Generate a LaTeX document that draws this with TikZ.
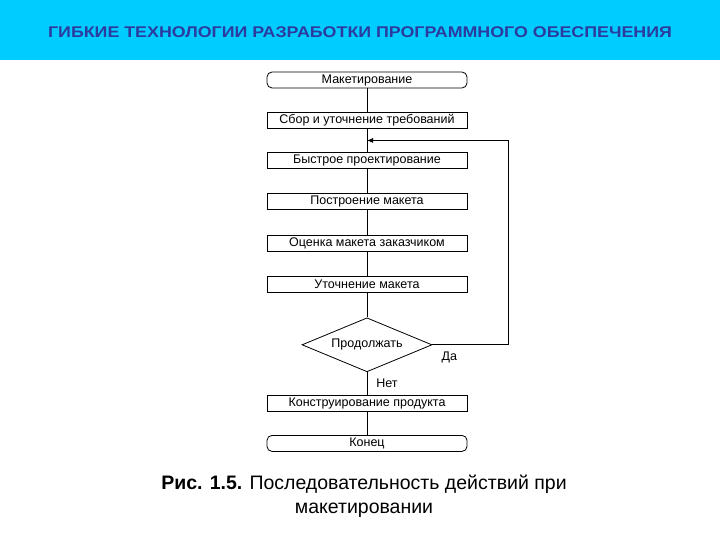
\documentclass[tikz,border=0pt]{standalone}
\usepackage{fontspec}
\setmainfont{Liberation Sans}
\usepackage{graphicx}
\usetikzlibrary{positioning,shapes.geometric,arrows.meta,calc}
\definecolor{hcyan}{HTML}{00CCFF}
\definecolor{hnavy}{HTML}{2B3C9E}

\begin{document}
\begin{tikzpicture}[x=1pt, y=1pt,
  stepbox/.style={rectangle, draw=black, line width=0.8pt, fill=white, text centered,
    font=\fontsize{12.5}{14}\selectfont, inner sep=0pt, minimum width=200pt, minimum height=16pt},
  termbox/.style={stepbox, rounded corners=5pt},
  decide/.style={diamond, aspect=2.45, draw=black, line width=0.8pt, fill=white, inner sep=0pt,
    font=\fontsize{12.5}{14}\selectfont, minimum width=130pt, minimum height=54pt},
  link/.style={line width=0.8pt, color=black},
  arr/.style={link, -{Latex[length=6pt, width=5pt]}}
]
\useasboundingbox (0,0) rectangle (720,-540);
\fill[hcyan] (0,0) rectangle (720,-60);
\node[font=\bfseries\fontsize{15.5}{18}\selectfont, text=hnavy] (title) at (360,-32.5)
  {\scalebox{1.15}[1]{ГИБКИЕ ТЕХНОЛОГИИ РАЗРАБОТКИ ПРОГРАММНОГО ОБЕСПЕЧЕНИЯ}};

\node[termbox] (proto) at (367,-80) {Макетирование};
\node[stepbox, below=23.5pt of proto] (req) {Сбор и уточнение требований};
\node[stepbox, below=23.5pt of req] (design) {Быстрое проектирование};
\node[stepbox, below=24.5pt of design] (build) {Построение макета};
\node[stepbox, below=24.5pt of build] (review) {Оценка макета заказчиком};
\node[stepbox, below=24.5pt of review] (refine) {Уточнение макета};
\node[decide, below=24.5pt of refine] (cont) {Продолжать};
\node[stepbox, below=23pt of cont] (product) {Конструирование продукта};
\node[termbox, below=23pt of product] (finish) {Конец};

\foreach \a/\b in {proto/req, req/design, design/build, build/review, review/refine,
  refine/cont, cont/product, product/finish}
  \draw[link] (\a) -- (\b);

\coordinate (back) at ($(req.south)!0.5!(design.north)$);
\draw[arr] (cont.east) -- ++(76,0) |- (back);

\node[font=\fontsize{12.5}{14}\selectfont] (yes) at ($(cont.east)+(17,-13)$) {Да};
\node[font=\fontsize{12.5}{14}\selectfont] (no) at ($(cont.south)+(20,-11)$) {Нет};

\node[align=center, font=\fontsize{19.5}{24}\selectfont] (caption) at (364,-496)
  {\textbf{Рис. 1.5.} Последовательность действий при\\макетировании};
\end{tikzpicture}
\end{document}
